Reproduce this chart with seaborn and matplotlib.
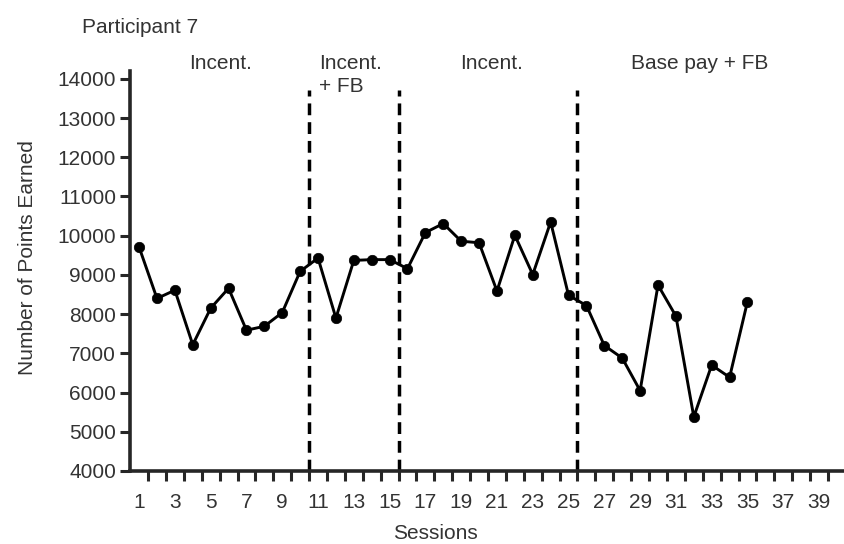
import numpy as np
import pandas as pd
import seaborn as sns
import matplotlib.pyplot as plt
from matplotlib.ticker import FixedLocator

# =========================
# Data
# =========================
sessions = list(range(1, 36))
points = [9710, 8400, 8610, 7220, 8150, 8660, 7590, 7690, 8040, 9090,
          9430, 7900, 9370, 9390, 9390, 9160, 10080, 10310, 9860, 9820,
          8590, 10010, 9010, 10350, 8480, 8220, 7200, 6880, 6050, 8740,
          7950, 5380, 6700, 6390, 8320]
phase_changes = [10.5, 15.5, 25.5]
phase_labels = ["Incent.", "Incent.\n+ FB", "Incent.", "Base pay + FB"]
y_ticks = list(range(4000, 14001, 1000))
x_labeled = list(range(1, 40, 2))

df = pd.DataFrame({"Session": sessions, "Points": points})

TXT = "#333333"
FS = 15

# =========================
# Plot
# =========================
sns.set_style("ticks")
plt.rcParams["font.family"] = ["Liberation Sans", "DejaVu Sans"]

fig = plt.figure(figsize=(8.45, 5.44), dpi=100)
ax = fig.add_axes([130.5 / 845, 73 / 544, 714.5 / 845, 400 / 544])

sns.lineplot(data=df, x="Session", y="Points", ax=ax, color="black",
             linewidth=2.1, marker="o", markersize=7.5, markeredgewidth=0.5,
             markeredgecolor="black", markerfacecolor="black")

for xc in phase_changes:
    ax.vlines(xc, 4000, 13720, colors="black", linestyles=(0, (3.4, 2.0)),
              linewidth=2.5, zorder=1)

ax.set_xlim(0.52, 40.45)
ax.set_ylim(4000, 14200)

ax.set_yticks(y_ticks)
ax.set_yticklabels([str(v) for v in y_ticks], fontsize=FS, color=TXT)
ax.set_xticks(x_labeled)
ax.set_xticklabels([str(v) for v in x_labeled], fontsize=FS, color=TXT)
ax.xaxis.set_minor_locator(FixedLocator([n + 0.5 for n in range(1, 40)]))

ax.tick_params(axis="y", direction="out", length=7.5, width=2.2, pad=3)
ax.tick_params(axis="x", which="major", length=0, pad=16)
ax.tick_params(axis="x", which="minor", direction="out", length=7.5, width=2.2)

for side in ["top", "right"]:
    ax.spines[side].set_visible(False)
for side in ["left", "bottom"]:
    ax.spines[side].set_linewidth(2.6)

ax.set_xlabel("Sessions", fontsize=FS, color=TXT)
ax.set_ylabel("Number of Points Earned", fontsize=FS, color=TXT)
ax.xaxis.set_label_coords((435 - 130.5) / 714.5, -0.132)
ax.yaxis.set_label_coords(-0.131, 0.5325)

# phase headers
ax.text(5.53, 14255, phase_labels[0], ha="center", va="baseline",
        fontsize=FS, color=TXT, clip_on=False)
ax.text(11.06, 14640, phase_labels[1], ha="left", va="top",
        fontsize=FS, color=TXT, clip_on=False, linespacing=1.3)
ax.text(20.72, 14255, phase_labels[2], ha="center", va="baseline",
        fontsize=FS, color=TXT, clip_on=False)
ax.text(32.34, 14255, phase_labels[3], ha="center", va="baseline",
        fontsize=FS, color=TXT, clip_on=False)

fig.text(82 / 845, 1 - 33 / 544, "Participant 7", ha="left", va="baseline",
         fontsize=FS, color=TXT)

plt.savefig("out.png", dpi=100)
plt.close()
